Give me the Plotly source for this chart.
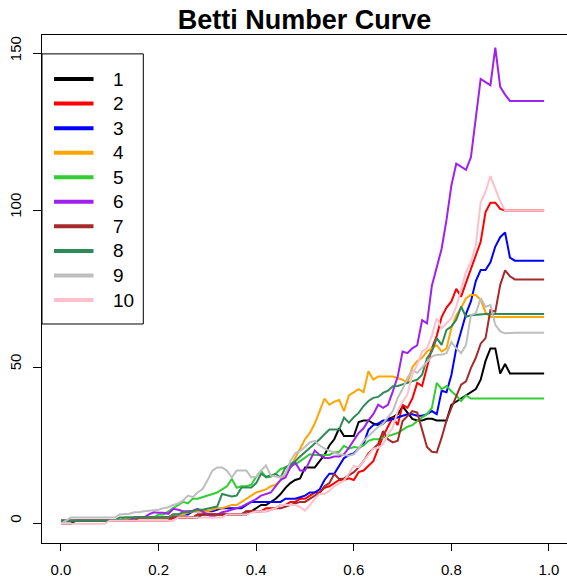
import plotly.graph_objects as go

x_values = [i / 100 for i in range(100)]

series_names = ["1", "2", "3", "4", "5", "6", "7", "8", "9", "10"]
series_colors = ["#000000", "#FF0000", "#0000FF", "#FFA500", "#32CD32",
                 "#A020F0", "#A52A2A", "#2E8B57", "#BEBEBE", "#FFC0CB"]

s1 = [0, 0, 0, 1, 1, 1, 1, 1, 1, 1,
      1, 1, 1, 1, 1, 2, 2, 2, 2, 2,
      2, 2, 2, 2, 2, 2, 2, 2, 2, 3,
      3, 3, 3, 3, 3, 3, 3, 3, 3, 4,
      5, 6, 6, 7, 8, 9.5, 11.5, 13, 14, 14.5,
      18, 18, 18, 20, 22, 25, 27, 30.5, 28, 28,
      28, 32.5, 33, 33, 32, 31.5, 32, 33.5, 34, 35,
      37.5, 35.5, 33.5, 33, 33, 33.5, 33.5, 33, 33, 33,
      38, 39, 40, 41, 42, 43, 46, 52, 56, 56,
      48, 51, 48, 48, 48, 48, 48, 48, 48, 48]
s2 = [1, 1, 1, 1, 1, 1, 1, 1, 1, 1,
      1, 1, 1, 1, 1, 1, 1, 1, 1, 1,
      1, 1, 1, 2, 2, 2, 2, 2, 3, 3,
      3, 3, 3, 3, 3, 3, 3, 3, 4, 4,
      4, 4, 5, 5, 5, 6, 6, 7, 7, 8,
      8, 9, 10, 10, 11.5, 12, 13, 14, 14, 14.5,
      14, 16.5, 17, 18.5, 20, 24, 28, 31, 34, 31.5,
      38, 37, 40, 45, 44, 50, 56, 60, 66, 69,
      71, 75, 72.5, 77, 81.5, 86, 90, 99.5, 102.5, 102.5,
      100.5, 100, 100, 100, 100, 100, 100, 100, 100, 100]
s3 = [1, 1, 1, 1, 1, 1, 1, 1, 1, 1,
      1, 1, 1, 1, 1, 2, 2, 2, 2, 2,
      2, 2, 2, 3, 3, 3, 3, 4, 4, 4,
      4, 4, 4.5, 5, 5, 5, 5, 5, 6, 7,
      7, 7, 7, 7, 7, 7, 8, 8, 8, 8.5,
      9, 10, 10, 11, 14, 16, 16, 18.5, 21, 22,
      22.5, 24, 25.5, 30, 31.5, 32, 33, 33, 33.5, 34,
      34.5, 35, 35, 34.5, 34.5, 35, 36, 35, 42.5, 42,
      47.5, 56, 61.5, 67, 71, 77.5, 81, 81, 83.5, 88.5,
      91.5, 93, 85, 84, 84, 84, 84, 84, 84, 84]
s4 = [1, 1, 1, 1, 1, 1, 1, 1, 1, 1,
      1, 1, 1, 1, 2, 2, 2, 2, 2, 2,
      2, 2, 2, 3, 3, 3, 3.5, 4, 4, 4,
      4, 4.5, 5, 5, 5.5, 6, 6, 7, 8, 9,
      10, 10.5, 11, 12, 12.5, 14, 16, 18, 21, 24,
      27, 29, 32, 36, 40, 38, 39, 39.5, 36, 41,
      42, 43, 42, 48.7, 46, 47, 47, 47, 47, 46.5,
      46, 45, 50, 52, 53, 55, 56, 57, 55, 56,
      62.5, 66.5, 69, 72, 73, 73, 71.5, 67.5, 66, 66,
      66, 66, 66, 66, 66, 66, 66, 66, 66, 66]
s5 = [1, 1, 1, 1, 1, 1, 1, 1, 1, 1,
      1, 1, 1, 2, 2, 2, 2, 2, 2, 2,
      3, 3, 4, 5, 6, 7, 6.5, 8, 8, 8.5,
      9, 9.5, 10, 11, 12, 14.3, 11.5, 12, 12, 12.5,
      15, 17, 14.8, 15, 16, 17.5, 18, 18.5, 19, 20,
      21, 22.2, 22, 22, 22, 22, 22.8, 23, 24.9, 24,
      24.5, 24.3, 25, 26.5, 27, 27, 27.5, 28, 28.5, 29,
      30, 31, 31.5, 32.8, 34, 35, 37, 45, 43, 44,
      42.3, 41, 39.2, 41, 40, 40, 40, 40, 40, 40,
      40, 40, 40, 40, 40, 40, 40, 40, 40, 40]
s6 = [1, 1, 1, 1, 1, 1, 1, 1, 1, 1,
      1, 1, 1, 1, 1, 2, 2, 2, 3, 3.7,
      3.5, 3.5, 3.2, 4.8, 4.5, 4, 4, 4.2, 4.8, 4,
      3, 2.1, 3, 3.7, 4, 4.5, 5, 5.5, 6.3, 7,
      7.9, 9, 9.5, 10, 12, 14, 14.8, 18, 19.6, 17,
      17, 20, 23.4, 22, 21, 21, 21.5, 21.5, 22.2, 24.3,
      26.5, 29, 30.5, 33, 35, 38, 37, 38, 42.3, 47,
      55, 54.5, 56, 57, 65, 64, 76, 81.5, 87.8, 97,
      108, 115, 114, 113, 117, 129, 142, 141, 140, 152,
      139.5, 137, 135, 135, 135, 135, 135, 135, 135, 135]
s7 = [1, 1, 1, 1, 1, 1, 1, 1, 1, 1,
      1, 1, 1, 1, 1, 1, 2, 2, 2, 2,
      2, 2, 2, 2, 2, 2, 2, 2, 3, 3,
      3, 3, 3, 3, 3, 3, 3, 3, 4, 4,
      4, 4, 4, 4.5, 5, 5, 5.5, 6, 6.5, 7,
      7, 8, 9, 10, 12, 13, 15.9, 14.3, 14.5, 15.5,
      16.5, 18, 20, 22.5, 24, 25.5, 29.6, 27, 26, 26.5,
      32.8, 34.5, 36, 35.5, 30, 24.5, 23, 22.8, 27.5, 33,
      37, 41, 44.4, 45.5, 49.7, 53, 57.5, 59.3, 68.2, 67.7,
      76.2, 80.9, 79, 78, 78, 78, 78, 78, 78, 78]
s8 = [1, 1, 1, 1, 1, 1, 1, 1, 1, 1,
      1, 1, 2, 2, 2, 2, 2, 2, 2, 2,
      2, 2, 2, 3, 3, 3.7, 3.7, 4, 4.5, 4.5,
      4.8, 5.3, 5.5, 9.5, 9, 8.7, 9, 11.6, 11.6, 11.6,
      13, 16, 15, 15.5, 15.9, 14.8, 18, 19, 20, 21.5,
      22.8, 24.3, 25.4, 27, 28.6, 30.1, 30.1, 30.1, 33.9, 32.3,
      34, 35.4, 37.6, 39.2, 40.2, 40.5, 41.8, 42.5, 43.9, 44,
      44.5, 45, 45.5, 46, 47.6, 52.9, 55, 59.3, 57.1, 61.9,
      63, 65.1, 69.3, 66.1, 66.6, 66.8, 67, 67, 67, 67,
      67, 67, 67, 67, 67, 67, 67, 67, 67, 67]
s9 = [0, 1, 2, 2, 2, 2, 2, 2, 2, 2,
      2, 2, 3, 3.2, 3.2, 3.7, 3.7, 4, 4.2, 4.2,
      4.5, 5, 5.3, 6, 6.5, 7.4, 9, 8.5, 10, 11.1,
      13.8, 17, 18, 18, 17, 14.8, 17, 17, 17, 14.8,
      15, 17, 18.6, 15.4, 15, 14.8, 16, 20, 22.5, 23.3,
      24.5, 26, 26.5, 25, 24, 23.3, 22.7, 22.2, 22, 21.7,
      22.2, 24, 26.5, 28, 29.6, 31, 32, 33.9, 36, 40.2,
      43, 46.6, 49, 48.2, 50, 51.9, 53.4, 54, 54, 54.5,
      58, 56, 54.5, 57.1, 66.6, 67.2, 72, 69.3, 69.8, 63.5,
      61.4, 60.8, 61, 61, 61, 61, 61, 61, 61, 61]
s10 = [0, 0, 0, 0, 0, 0, 0, 0, 0, 0,
       1, 1, 1, 1, 1, 1, 1, 1, 1, 1,
       1, 1, 1, 1, 2, 2, 2, 2, 2, 2,
       2, 2, 2, 2, 3, 3, 3, 3, 3, 3.5,
       4, 4, 4, 4.5, 5, 6, 6, 6.2, 6, 5.3,
       4.2, 6, 8, 9.5, 9.5, 10.6, 12, 13, 13.8, 16,
       18.5, 18, 20, 22.2, 24, 24.3, 25.4, 28.6, 30.7, 36,
       39, 41.3, 47.6, 50.8, 55, 56, 60, 65.6, 62.4, 64,
       65.6, 69.3, 75, 80.4, 83.6, 88.9, 102.6, 106, 111, 106.8,
       103, 100, 100, 100, 100, 100, 100, 100, 100, 100]

series_values = [s1, s2, s3, s4, s5, s6, s7, s8, s9, s10]

x_tick_vals = [0.0, 0.2, 0.4, 0.6, 0.8, 1.0]
x_tick_text = ["0.0", "0.2", "0.4", "0.6", "0.8", "1.0"]
y_tick_vals = [0, 50, 100, 150]
y_tick_text = ["0", "50", "100", "150"]

FONT = "Liberation Sans, Arial, sans-serif"

fig = go.Figure()
for name, color, vals in zip(series_names, series_colors, series_values):
    fig.add_trace(go.Scatter(x=x_values, y=vals, mode="lines", name=name,
                             line=dict(color=color, width=2), showlegend=False))

# manual R-style legend box
W, H = 567, 578
ml, mr, mt, mb = 42, 0, 35, 32
pw, ph = W - ml - mr, H - mt - mb


def px_x(px):
    return (px - ml) / pw


def px_y(py):
    return (H - mb - py) / ph


shapes = [dict(type="rect", xref="paper", yref="paper",
               x0=px_x(42), x1=px_x(143.3), y0=px_y(325.7), y1=px_y(54),
               line=dict(color="black", width=1), fillcolor="white", layer="above")]
annotations = []
for k, (name, color) in enumerate(zip(series_names, series_colors)):
    yy = px_y(79.3 + 24.7 * k)
    shapes.append(dict(type="line", xref="paper", yref="paper",
                       x0=px_x(54), x1=px_x(93.5), y0=yy, y1=yy,
                       line=dict(color=color, width=4), layer="above"))
    annotations.append(dict(xref="paper", yref="paper", x=px_x(111), y=yy,
                            text=name, showarrow=False, xanchor="left",
                            yanchor="middle", font=dict(size=19, color="black", family=FONT)))

fig.update_layout(
    width=W, height=H,
    margin=dict(l=ml, r=mr, t=mt, b=mb, pad=0),
    paper_bgcolor="white", plot_bgcolor="white",
    font=dict(family=FONT, color="black"),
    title=dict(text="<b>Betti Number Curve</b>", xref="container", yref="container",
               x=304.5 / W, y=1 - 20 / H, xanchor="center", yanchor="middle",
               font=dict(size=27, family=FONT, color="black")),
    shapes=shapes,
    annotations=annotations,
    xaxis=dict(range=[-0.0389, 1.0369], tickvals=x_tick_vals, ticktext=x_tick_text,
               showgrid=False, zeroline=False, showline=True, linecolor="black",
               linewidth=1, mirror=True, ticks="outside", ticklen=7, tickcolor="black",
               tickfont=dict(size=15, family=FONT, color="black"), ticklabelstandoff=6),
    yaxis=dict(range=[-6.12, 156.03], tickvals=y_tick_vals, ticktext=y_tick_text,
               showgrid=False, zeroline=False, showline=True, linecolor="black",
               linewidth=1, ticks="outside", ticklen=8, tickcolor="black", tickangle=-90,
               tickfont=dict(size=15, family=FONT, color="black"), ticklabelstandoff=6,
               ticklabelshift=-3),
)

fig.write_html("out.html", config={"displayModeBar": False},
               post_script="document.body.style.margin='0px';document.body.style.overflow='hidden';")
